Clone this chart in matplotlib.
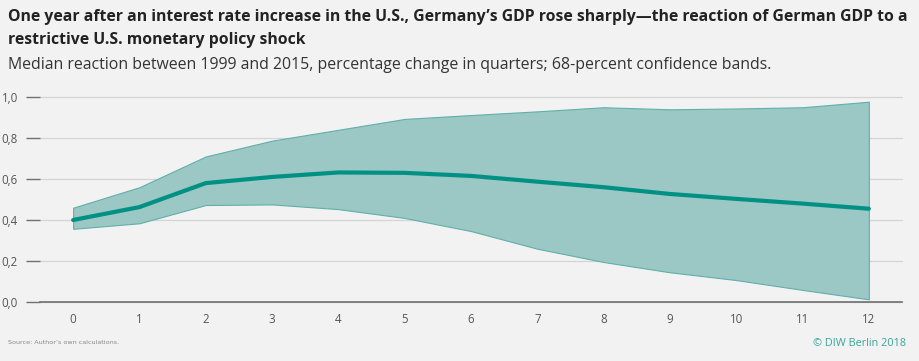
import matplotlib
matplotlib.use("Agg")
import matplotlib.pyplot as plt
import matplotlib.ticker as mticker

# ---------------------------------------------------------------------------
# Data
# ---------------------------------------------------------------------------
quarters = list(range(13))
median = [0.40, 0.463, 0.58, 0.61, 0.632, 0.63, 0.615, 0.587, 0.56, 0.527, 0.503, 0.48, 0.455]
upper  = [0.46, 0.56, 0.71, 0.787, 0.84, 0.893, 0.912, 0.93, 0.95, 0.94, 0.944, 0.95, 0.977]
lower  = [0.357, 0.384, 0.473, 0.476, 0.453, 0.41, 0.346, 0.26, 0.195, 0.145, 0.107, 0.059, 0.013]
yticks = [0.0, 0.2, 0.4, 0.6, 0.8, 1.0]

title = ("One year after an interest rate increase in the U.S., Germany\u2019s GDP rose sharply\u2014the reaction of German GDP to a\n"
         "restrictive U.S. monetary policy shock")
subtitle = "Median reaction between 1999 and 2015, percentage change in quarters; 68-percent confidence bands."
source = "Source: Author\u2019s own calculations."
credit = "\u00a9 DIW Berlin 2018"

# ---------------------------------------------------------------------------
# Style
# ---------------------------------------------------------------------------
_BG    = "#f2f2f2"
_LINE  = "#009184"
_BAND  = "#9bc7c4"
_GRID  = "#d4d4d4"
_TEXT  = "#555555"

plt.rcParams.update({
    "font.family": ["Open Sans", "DejaVu Sans"],
    "figure.dpi": 100,
})

fig = plt.figure(figsize=(9.2, 3.61), facecolor=_BG)
ax = fig.add_axes([40 / 920, 1 - 302 / 361, 862 / 920, 205 / 361])
ax.set_facecolor(_BG)

ax.fill_between(quarters, lower, upper, color=_BAND, lw=0.8,
                edgecolor="#5fb0aa", zorder=2)
ax.plot(quarters, median, color=_LINE, lw=3.0, solid_capstyle="round", zorder=3)

ax.set_xlim(-0.5, 12.5)
ax.set_ylim(0, 1.0)
ax.set_xticks(quarters)
ax.set_yticks(yticks)
ax.yaxis.set_major_formatter(mticker.FuncFormatter(lambda v, p: f"{v:.1f}".replace(".", ",")))
ax.grid(axis="y", color=_GRID, lw=0.9, zorder=1, clip_on=False)

for s in ("top", "right", "left"):
    ax.spines[s].set_visible(False)
ax.spines["bottom"].set_color("#707070")
ax.spines["bottom"].set_linewidth(1.2)
ax.spines["bottom"].set_zorder(4)

ax.tick_params(axis="x", length=0, pad=8, labelsize=8.3, labelcolor=_TEXT)
ax.tick_params(axis="y", length=10, width=1.0, color="#707070", pad=6,
               labelsize=8.3, labelcolor=_TEXT)

fig.text(8 / 920, 1 - 9 / 361, title, fontsize=11.3, fontweight="bold",
         color="#222222", va="top", ha="left", linespacing=1.6)
fig.text(8 / 920, 1 - 57 / 361, subtitle, fontsize=11.4, color="#333333",
         va="top", ha="left")
fig.text(8 / 920, 1 - 343 / 361, source, fontsize=4.6, color="#888888",
         va="center", ha="left",
         family=["DejaVu Sans Condensed", "Liberation Sans Narrow", "DejaVu Sans"])
fig.text(906 / 920, 1 - 343 / 361, credit, fontsize=7.8, color="#3aa59c",
         va="center", ha="right")

fig.savefig("out.png", dpi=100, facecolor=_BG)
